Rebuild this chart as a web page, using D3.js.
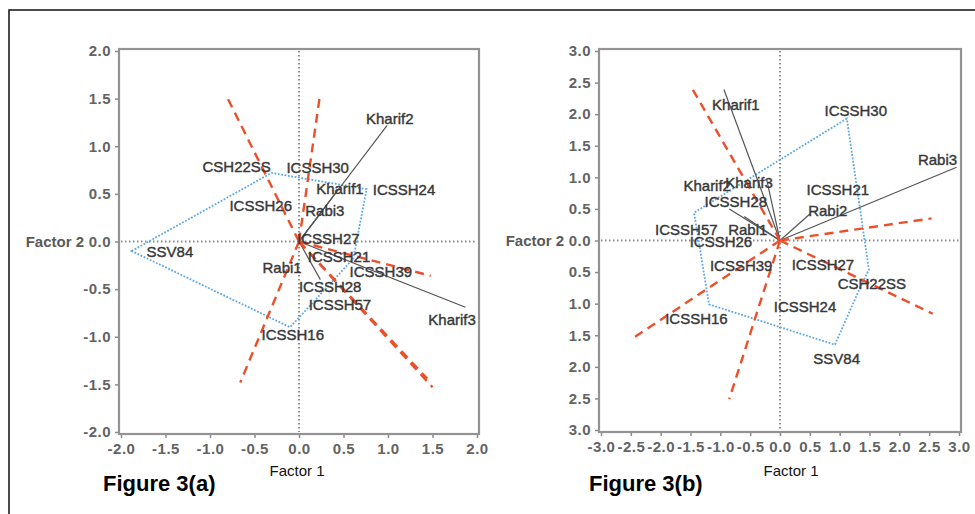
<!DOCTYPE html>
<html>
<head>
  <meta charset="utf-8">
  <title>Figure 3 biplots</title>
  <style>
    body { margin: 0; background: #fff; overflow: hidden; }
    svg { display: block; font-family: Arial, "Liberation Sans", sans-serif; }
    .tick text { font-size: 15px; font-weight: bold; fill: #636363; letter-spacing: 0.5px; }
    .tick line { stroke: #8c8c8c; stroke-width: 1.5; }
    .lbl { font-size: 15px; fill: #383838; stroke: #383838; stroke-width: 0.4;
           text-anchor: middle; dominant-baseline: central; }
  </style>
</head>
<body>
<svg id="chart" width="975" height="514"></svg>
<script src="https://cdn.jsdelivr.net/npm/d3@7"></script>
<script>
// ---- Figure 3(a) ----
var ticksA = [-2, -1.5, -1, -0.5, 0, 0.5, 1, 1.5, 2];
var xTickLabelsA = ["-2.0", "-1.5", "-1.0", "-0.5", "0.0", "0.5", "1.0", "1.5", "2.0"];
var yTickLabelsA = ["-2.0", "-1.5", "-1.0", "-0.5", "0.0", "0.5", "1.0", "1.5", "2.0"];
// polygon of the vertex genotypes
var hullA = [[-1.88, -0.1], [-0.31, 0.72], [0.76, 0.55], [0.61, -0.18], [-0.1, -0.9]];
// sector dividing rays (end points, from the origin)
var raysA = [[-0.8, 1.5], [0.23, 1.5], [1.48, -0.36], [1.5, -1.53], [1.44, -1.44], [-0.66, -1.48]];
// environment vectors
var envA = [["Kharif1", 0.42, 0.52], ["Kharif2", 0.99, 1.22], ["Kharif3", 1.87, -0.69],
            ["Rabi1", 0.24, -0.4], ["Rabi3", 0.27, 0.33]];
// text labels (genotypes and environments)
var labelsA = [["CSH22SS", -0.70, 0.79], ["ICSSH30", 0.21, 0.78], ["Kharif1", 0.46, 0.56],
               ["ICSSH24", 1.18, 0.55], ["ICSSH26", -0.43, 0.38], ["Rabi3", 0.29, 0.33],
               ["ICSSH27", 0.33, 0.03], ["SSV84", -1.45, -0.11], ["ICSSH21", 0.45, -0.16],
               ["Rabi1", -0.19, -0.27], ["ICSSH39", 0.92, -0.32], ["ICSSH28", 0.35, -0.47],
               ["ICSSH57", 0.46, -0.66], ["Kharif3", 1.72, -0.82], ["ICSSH16", -0.07, -0.98],
               ["Kharif2", 1.02, 1.29]];

// ---- Figure 3(b) ----
var ticksB = [-3, -2.5, -2, -1.5, -1, -0.5, 0, 0.5, 1, 1.5, 2, 2.5, 3];
var xTickLabelsB = ["-3.0", "-2.5", "-2.0", "-1.5", "-1.0", "-0.5", "0.0", "0.5", "1.0", "1.5", "2.0", "2.5", "3.0"];
var yTickLabelsB = ["3.0", "2.5", "2.0", "1.5", "1.0", "0.5", "0.0", "0.5", "1.0", "1.5", "2.0", "2.5", "3.0"];
var hullB = [[1.12, 1.93], [-1.44, 0.44], [-1.19, -1.01], [0.92, -1.65], [1.35, -0.73], [1.49, -0.46]];
var raysB = [[-1.5, 2.45], [2.54, 0.35], [2.56, -1.16], [-0.85, -2.51], [-2.47, -1.55]];
var envB = [["Kharif1", -0.94, 2.39], ["Kharif2", -0.85, 0.5], ["Kharif3", -0.22, 0.95],
            ["Rabi1", -0.6, 0.38], ["Rabi2", 0.5, 0.42], ["Rabi3", 2.96, 1.16]];
var labelsB = [["Kharif1", -0.74, 2.15], ["ICSSH30", 1.27, 2.06], ["Rabi3", 2.64, 1.28],
               ["Kharif2", -1.22, 0.87], ["Kharif3", -0.52, 0.92], ["ICSSH21", 0.97, 0.81],
               ["ICSSH28", -0.74, 0.62], ["Rabi2", 0.80, 0.47], ["ICSSH57", -1.57, 0.17],
               ["Rabi1", -0.54, 0.17], ["ICSSH26", -0.99, -0.02], ["ICSSH39", -0.65, -0.40],
               ["ICSSH27", 0.72, -0.38], ["CSH22SS", 1.54, -0.68], ["ICSSH24", 0.42, -1.04],
               ["ICSSH16", -1.40, -1.23], ["SSV84", 0.95, -1.87]];

var svg = d3.select("#chart");

// outer frame (right and bottom edges fall outside the picture)
svg.append("rect")
    .attr("x", 9).attr("y", 10).attr("width", 990).attr("height", 520)
    .attr("fill", "none").attr("stroke", "#111").attr("stroke-width", 1.5);

var panels = [
  { ticks: ticksA, xl: xTickLabelsA, yl: yTickLabelsA, hull: hullA, rays: raysA, env: envA,
    labels: labelsA, dom: [-2, 2], xr: [121, 477], yr: [432, 51],
    title: "Figure 3(a)", titleX: 103, f1x: 297 },
  { ticks: ticksB, xl: xTickLabelsB, yl: yTickLabelsB, hull: hullB, rays: raysB, env: envB,
    labels: labelsB, dom: [-3, 3], xr: [601, 959], yr: [430, 51],
    title: "Figure 3(b)", titleX: 589, f1x: 791 }
];

panels.forEach(function(p) {
  var x = d3.scaleLinear().domain(p.dom).range(p.xr);
  var y = d3.scaleLinear().domain(p.dom).range(p.yr);
  var g = svg.append("g");

  // axes (ticks + labels only; box drawn separately)
  var xa = g.append("g").attr("transform", "translate(0," + (p.yr[0] + 2) + ")")
      .call(d3.axisBottom(x).tickValues(p.ticks).tickSize(4).tickPadding(5)
            .tickFormat(function(d, i) { return p.xl[i]; }));
  var ya = g.append("g").attr("transform", "translate(" + (p.xr[0] - 2) + ",0)")
      .call(d3.axisLeft(y).tickValues(p.ticks).tickSize(4).tickPadding(4)
            .tickFormat(function(d, i) { return p.yl[i]; }));
  xa.select(".domain").remove();
  ya.select(".domain").remove();

  // plot box
  g.append("rect")
      .attr("x", p.xr[0] - 2).attr("y", p.yr[1] - 2)
      .attr("width", p.xr[1] - p.xr[0] + 4).attr("height", p.yr[0] - p.yr[1] + 4)
      .attr("fill", "none").attr("stroke", "#939393").attr("stroke-width", 2.2);

  // zero reference lines
  g.append("line").attr("x1", p.xr[0]).attr("x2", p.xr[1])
      .attr("y1", y(0)).attr("y2", y(0))
      .attr("stroke", "#8a8a8a").attr("stroke-width", 2).attr("stroke-dasharray", "1.5,2.5");
  g.append("line").attr("x1", x(0)).attr("x2", x(0))
      .attr("y1", p.yr[1]).attr("y2", p.yr[0])
      .attr("stroke", "#8a8a8a").attr("stroke-width", 2).attr("stroke-dasharray", "1.5,2.5");

  // polygon
  g.append("path")
      .attr("d", d3.line().x(function(d) { return x(d[0]); }).y(function(d) { return y(d[1]); })
                 .curve(d3.curveLinearClosed)(p.hull))
      .attr("fill", "none").attr("stroke", "#5ea8e2").attr("stroke-width", 1.8)
      .attr("stroke-dasharray", "1.8,1.6");

  // environment vectors
  g.selectAll(".env").data(p.env).enter().append("line")
      .attr("x1", x(0)).attr("y1", y(0))
      .attr("x2", function(d) { return x(d[1]); })
      .attr("y2", function(d) { return y(d[2]); })
      .attr("stroke", "#555").attr("stroke-width", 1.2);

  // sector rays
  g.selectAll(".ray").data(p.rays).enter().append("line")
      .attr("x1", x(0)).attr("y1", y(0))
      .attr("x2", function(d) { return x(d[0]); })
      .attr("y2", function(d) { return y(d[1]); })
      .attr("stroke", "#ec4f2a").attr("stroke-width", 2.4)
      .attr("stroke-dasharray", "9,6");

  // labels
  g.selectAll(".lbl").data(p.labels).enter().append("text")
      .attr("class", "lbl")
      .attr("x", function(d) { return x(d[1]); })
      .attr("y", function(d) { return y(d[2]); })
      .text(function(d) { return d[0]; });

  // axis titles
  g.append("text").attr("x", p.xr[0] - 37).attr("y", y(0))
      .attr("text-anchor", "end").attr("dominant-baseline", "central")
      .style("font-size", "15px").style("font-weight", "bold").style("fill", "#5a5a5a")
      .text("Factor 2");
  g.append("text").attr("x", p.f1x).attr("y", 470)
      .attr("text-anchor", "middle").attr("dominant-baseline", "central")
      .style("font-size", "15px").style("fill", "#111")
      .text("Factor 1");
  g.append("text").attr("x", p.titleX).attr("y", 491)
      .style("font-size", "22px").style("font-weight", "bold").style("fill", "#000")
      .text(p.title);
});
</script>
</body>
</html>
